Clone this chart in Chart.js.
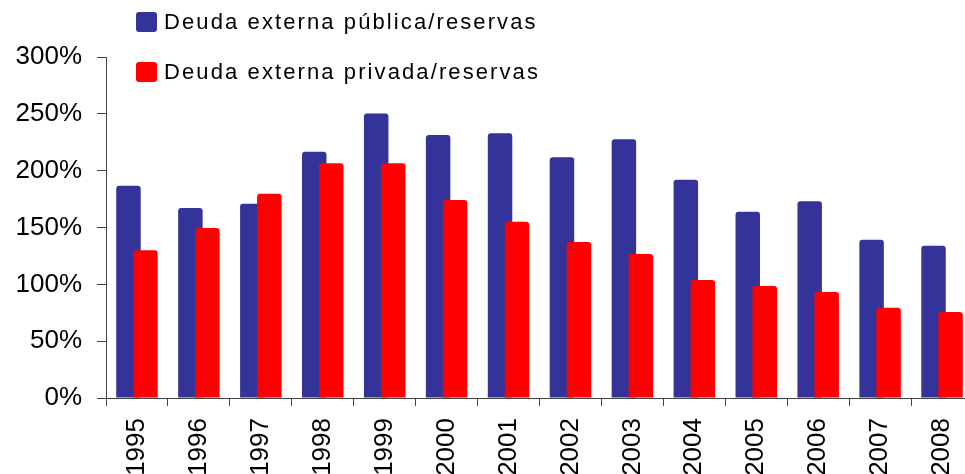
<!DOCTYPE html>
<html>
<head>
<meta charset="utf-8">
<script src="https://cdn.jsdelivr.net/npm/chart.js@4"></script>
<style>
html,body{margin:0;padding:0;background:#fff;overflow:hidden;}
#wrap{position:absolute;left:0;top:0;width:975px;height:474px;}
</style>
</head>
<body>
<div id="wrap"><canvas id="c" width="975" height="474"></canvas></div>
<script>
const categories = ['1995','1996','1997','1998','1999','2000','2001','2002','2003','2004','2005','2006','2007','2008'];
const publicaValues = [186.8,167.2,170.9,216.7,250.4,231.4,232.9,211.7,227.6,192.1,163.9,173.0,139.3,134.0];
const privadaValues = [129.9,149.6,179.7,206.5,206.5,174.2,155.1,137.2,126.7,103.8,98.5,93.3,79.5,75.7];
const seriesLabels = ['Deuda externa pública/reservas','Deuda externa privada/reservas'];
const yTicks = [0,50,100,150,200,250,300];

const BLUE = '#333399', RED = '#FF0000', AXIS = '#444444';

const drawOrder = {
  id: 'drawOrder',
  beforeDatasetsDraw(chart) {
    for (let i = 0; i < chart.data.datasets.length; i++) {
      const meta = chart.getDatasetMeta(i);
      if (!meta.hidden) meta.controller.draw();
    }
    return false;
  }
};

const customLegend = {
  id: 'customLegend',
  afterDraw(chart) {
    const ctx = chart.ctx;
    ctx.save();
    ctx.font = '22px "Liberation Sans", Arial, sans-serif';
    if ('letterSpacing' in ctx) ctx.letterSpacing = '2.1px';
    ctx.textBaseline = 'middle';
    chart.data.datasets.forEach((ds, i) => {
      const y = 22 + i * 50;
      ctx.fillStyle = ds.backgroundColor;
      ctx.beginPath();
      if (ctx.roundRect) ctx.roundRect(136, y - 10, 21, 20, 3); else ctx.rect(136, y - 10, 21, 20);
      ctx.fill();
      ctx.fillStyle = '#000';
      ctx.fillText(ds.label, 164, y + 1);
    });
    ctx.restore();
  }
};

new Chart(document.getElementById('c'), {
  type: 'bar',
  data: {
    labels: categories,
    datasets: [
      { label: seriesLabels[0], data: publicaValues, backgroundColor: BLUE,
        borderRadius: {topLeft: 3, topRight: 3, bottomLeft: 0, bottomRight: 0}, borderSkipped: 'bottom' },
      { label: seriesLabels[1], data: privadaValues, backgroundColor: RED,
        borderRadius: {topLeft: 3, topRight: 3, bottomLeft: 0, bottomRight: 0}, borderSkipped: 'bottom' }
    ]
  },
  options: {
    responsive: false,
    animation: false,
    maintainAspectRatio: false,
    categoryPercentage: 0.549,
    barPercentage: 1.44,
    layout: { padding: { top: 57, right: 2, left: 0, bottom: 0 } },
    plugins: { legend: { display: false }, tooltip: { enabled: false } },
    scales: {
      x: {
        afterFit(scale) { scale.height = 76; scale.paddingRight = 0; scale.paddingLeft = 0; },
        grid: { display: true, drawOnChartArea: false, offset: true, tickLength: 8, color: AXIS },
        border: { display: true, color: AXIS, width: 1 },
        ticks: {
          minRotation: 90, maxRotation: 90, autoSkip: false, padding: 12,
          color: '#000', font: { family: '"Liberation Sans", Arial, sans-serif', size: 26 }
        }
      },
      y: {
        min: 0, max: 300,
        afterFit(scale) { scale.width = 106; scale.paddingTop = 0; scale.paddingBottom = 0; },
        afterBuildTicks(scale) { scale.ticks = yTicks.map(v => ({ value: v })); },
        grid: { display: true, drawOnChartArea: false, tickLength: 9, color: AXIS },
        border: { display: true, color: AXIS, width: 1 },
        ticks: {
          padding: 15, color: '#000',
          font: { family: '"Liberation Sans", Arial, sans-serif', size: 26 },
          callback: v => v + '%'
        }
      }
    }
  },
  plugins: [drawOrder, customLegend]
});
</script>
</body>
</html>
